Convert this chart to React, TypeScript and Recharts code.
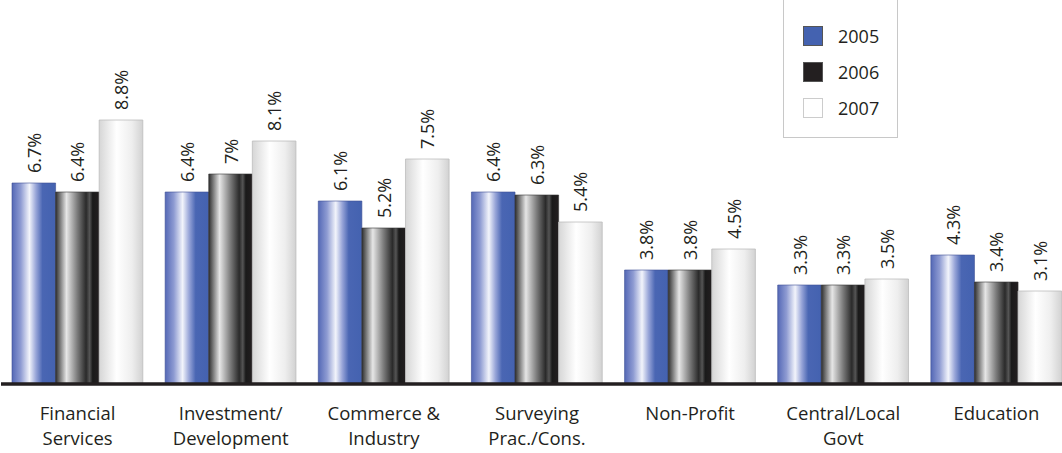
import { BarChart, Bar, XAxis, YAxis, LabelList } from 'recharts'

const categories = [
  'Financial\nServices',
  'Investment/\nDevelopment',
  'Commerce &\nIndustry',
  'Surveying\nPrac./Cons.',
  'Non-Profit',
  'Central/Local\nGovt',
  'Education',
]
const y2005 = [6.7, 6.4, 6.1, 6.4, 3.8, 3.3, 4.3]
const y2006 = [6.4, 7, 5.2, 6.3, 3.8, 3.3, 3.4]
const y2007 = [8.8, 8.1, 7.5, 5.4, 4.5, 3.5, 3.1]
const years = ['2005', '2006', '2007']

const FONT = '"Open Sans", sans-serif'

const data = categories.map((c, i) => ({
  name: c,
  y2005: y2005[i],
  y2006: y2006[i],
  y2007: y2007[i],
}))

const swatches = ['#4462b0', '#231f20', '#ffffff']

function ValueLabel(props: any) {
  const { x, y, width, value } = props
  const cx = x + width / 2
  const ty = y - 10
  return (
    <text
      x={cx}
      y={ty}
      transform={`rotate(-90, ${cx}, ${ty})`}
      textAnchor="start"
      dominantBaseline="central"
      fontSize={18}
      fontFamily={FONT}
      fill="#231f20"
    >
      {`${value}%`}
    </text>
  )
}

function CatTick(props: any) {
  const { x, y, payload } = props
  const lines = String(payload.value).split('\n')
  return (
    <text x={x} y={y + 28} textAnchor="middle" fontSize={18.5} fontFamily={FONT} fill="#231f20">
      {lines.map((l, i) => (
        <tspan key={i} x={x} dy={i === 0 ? 0 : 25}>
          {l}
        </tspan>
      ))}
    </text>
  )
}

function LegendBox() {
  return (
    <div
      style={{
        position: 'absolute',
        left: 783,
        top: -13,
        width: 115,
        height: 151,
        border: '1px solid #c8c8c8',
        background: '#fff',
        boxSizing: 'border-box',
        paddingTop: 30,
        paddingLeft: 19,
      }}
    >
      {years.map((yr, i) => (
        <div key={yr} style={{ display: 'flex', alignItems: 'center', height: 36 }}>
          <div
            style={{
              width: 20,
              height: 20,
              background: swatches[i],
              border: i === 2 ? '1px solid #ccc' : '1px solid #555',
              boxSizing: 'border-box',
            }}
          />
          <span style={{ marginLeft: 15, fontFamily: FONT, fontSize: 18, color: '#231f20' }}>{yr}</span>
        </div>
      ))}
    </div>
  )
}

export default function App() {
  return (
    <div style={{ position: 'absolute', left: 0, top: 0, width: 1062, height: 453, overflow: 'hidden', background: '#fff' }}>
      <BarChart
        width={1074}
        height={453}
        data={data}
        margin={{ top: 24, right: 1, left: 1, bottom: 0 }}
        barGap={0}
      >
        <defs>
          <linearGradient id="g2005" x1="0" y1="0" x2="1" y2="0">
            <stop offset="0%" stopColor="#5468b6" />
            <stop offset="20%" stopColor="#8e9bd2" />
            <stop offset="40%" stopColor="#f2f4fb" />
            <stop offset="55%" stopColor="#98a5d8" />
            <stop offset="70%" stopColor="#4a66b3" />
            <stop offset="100%" stopColor="#4462b0" />
          </linearGradient>
          <linearGradient id="g2006" x1="0" y1="0" x2="1" y2="0">
            <stop offset="0%" stopColor="#2e2e2e" />
            <stop offset="25%" stopColor="#e6e6e6" />
            <stop offset="50%" stopColor="#7a7a7a" />
            <stop offset="70%" stopColor="#2a2a2a" />
            <stop offset="78%" stopColor="#555" />
            <stop offset="85%" stopColor="#1a1a1a" />
            <stop offset="100%" stopColor="#231f20" />
          </linearGradient>
          <linearGradient id="g2007" x1="0" y1="0" x2="1" y2="0">
            <stop offset="0%" stopColor="#d6d6d6" />
            <stop offset="40%" stopColor="#ffffff" />
            <stop offset="75%" stopColor="#eeeeee" />
            <stop offset="100%" stopColor="#d2d2d2" />
          </linearGradient>
        </defs>
        <XAxis
          dataKey="name"
          interval={0}
          tickLine={false}
          axisLine={{ stroke: '#231f20', strokeWidth: 3.5 }}
          tick={<CatTick />}
          height={69}
        />
        <YAxis hide domain={[0, 12]} />
        <Bar dataKey="y2005" barSize={43.6} fill="url(#g2005)" stroke="#3d4f94" strokeWidth={0.6} isAnimationActive={false}>
          <LabelList dataKey="y2005" content={<ValueLabel />} />
        </Bar>
        <Bar dataKey="y2006" barSize={43.6} fill="url(#g2006)" stroke="#333" strokeWidth={0.6} isAnimationActive={false}>
          <LabelList dataKey="y2006" content={<ValueLabel />} />
        </Bar>
        <Bar dataKey="y2007" barSize={43.6} fill="url(#g2007)" stroke="#bdbdbd" strokeWidth={0.8} isAnimationActive={false}>
          <LabelList dataKey="y2007" content={<ValueLabel />} />
        </Bar>
      </BarChart>
      <LegendBox />
    </div>
  )
}
